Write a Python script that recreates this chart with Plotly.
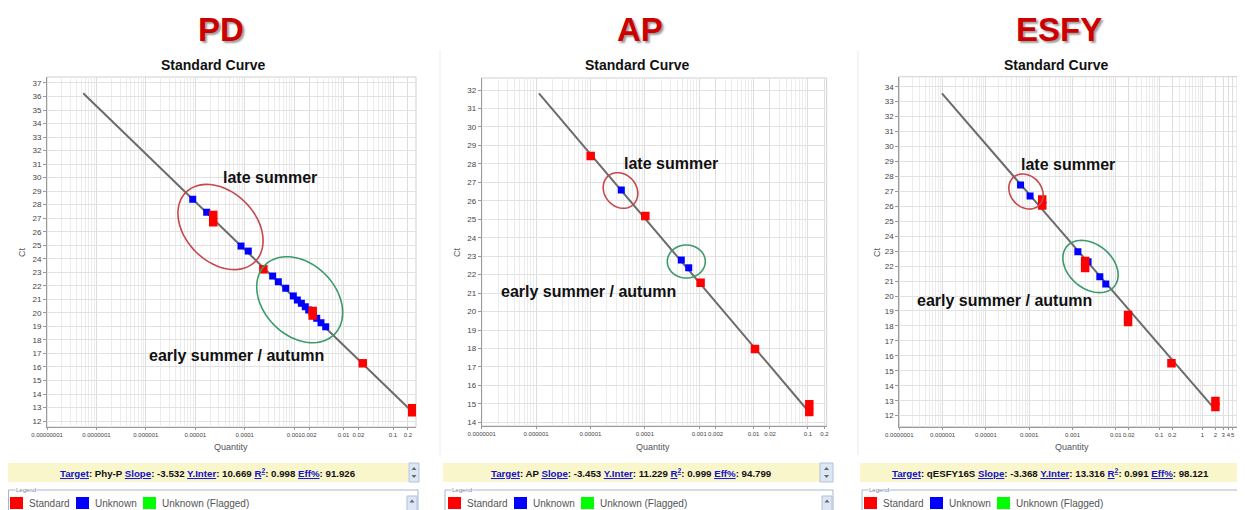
import numpy as np
import plotly.graph_objects as go

W, H = 1245, 510
OFF = 8  # the page body margin shifts the figure by 8 px; compensate

# ---------------- data ----------------
# PD
pd_line_q = [5.4e-8, 0.26]
pd_line_ct = [36.24, 12.6]
pd_std_q = [2.31e-5, 2.31e-5, 2.38e-4, 2.37e-3, 2.37e-3, 0.0244, 0.245, 0.245]
pd_std_ct = [27.24, 26.70, 23.22, 20.14, 19.80, 16.27, 12.95, 12.65]
pd_unk_q = [8.87e-6, 1.70e-5, 8.41e-5, 1.18e-4, 3.68e-4, 4.78e-4, 6.75e-4, 9.62e-4,
            1.16e-3, 1.40e-3, 1.68e-3, 1.97e-3, 2.86e-3, 3.49e-3, 4.35e-3]
pd_unk_ct = [28.40, 27.44, 24.94, 24.57, 22.72, 22.30, 21.82, 21.25,
             20.95, 20.71, 20.45, 20.21, 19.60, 19.27, 18.97]

# AP
ap_line_q = [1.13e-6, 0.109]
ap_line_ct = [31.82, 14.49]
ap_std_q = [1.01e-5, 1.02e-4, 1.06e-3, 0.0106, 0.1057, 0.1057]
ap_std_ct = [28.43, 25.18, 21.56, 17.97, 14.98, 14.56]
ap_unk_q = [3.69e-5, 4.68e-4, 6.41e-4]
ap_unk_ct = [26.58, 22.79, 22.37]

# ESFY
es_line_q = [9.66e-7, 2.0]
es_line_ct = [33.56, 12.38]
es_std_q = [2.0e-4, 2.0e-4, 1.96e-3, 1.96e-3, 0.0192, 0.0192, 0.193, 2.0, 2.0]
es_std_ct = [26.46, 26.06, 22.34, 21.88, 18.73, 18.27, 15.50, 12.98, 12.58]
es_unk_q = [6.32e-5, 1.05e-4, 1.33e-3, 2.29e-3, 4.28e-3, 5.87e-3]
es_unk_ct = [27.42, 26.69, 22.97, 22.30, 21.29, 20.81]

titles = ["PD", "AP", "ESFY"]
targets = ["Phy-P", "AP", "qESFY16S"]
slopes = ["-3.532", "-3.453", "-3.368"]
yinters = ["10.669", "11.229", "13.316"]
r2s = ["0.998", "0.999", "0.991"]
effs = ["91.926", "94.799", "98.121"]

pd_xticks = [1e-8, 1e-7, 1e-6, 1e-5, 1e-4, 1e-3, 2e-3, 1e-2, 2e-2, 0.1, 0.2]
pd_xtext = ["0.00000001", "0.0000001", "0.000001", "0.00001", "0.0001", "0.001", "0.002",
            "0.01", "0.02", "0.1", "0.2"]
ap_xticks = [1e-7, 1e-6, 1e-5, 1e-4, 1e-3, 2e-3, 1e-2, 2e-2, 0.1, 0.2]
ap_xtext = ["0.0000001", "0.000001", "0.00001", "0.0001", "0.001", "0.002",
            "0.01", "0.02", "0.1", "0.2"]
es_xticks = [1e-7, 1e-6, 1e-5, 1e-4, 1e-3, 1e-2, 2e-2, 0.1, 0.2, 1, 2, 3, 4, 5]
es_xtext = ["0.0000001", "0.000001", "0.00001", "0.0001", "0.001", "0.01", "0.02",
            "0.1", "0.2", "1", "2", "3", "4", "5"]

# ---------------- layout geometry (pixels in the photographed page) ----------------
panels = [
    dict(x0=47, x1=416, top=77, bot=427, xr=[-8, -0.535], yr=[11.56, 37.44],
         ticks=pd_xticks, ttext=pd_xtext, line=(pd_line_q, pd_line_ct),
         std=(pd_std_q, pd_std_ct), unk=(pd_unk_q, pd_unk_ct),
         bigx=221, scx=213, ctx=22, qx=231, bar=(8, 408), btn=(409, 419), txtx=208,
         leg=(8.5, 418), legx=10),
    dict(x0=481.7, x1=826.7, top=78, bot=426, xr=[-7, -0.656], yr=[13.8, 32.65],
         ticks=ap_xticks, ttext=ap_xtext, line=(ap_line_q, ap_line_ct),
         std=(ap_std_q, ap_std_ct), unk=(ap_unk_q, ap_unk_ct),
         bigx=640, scx=637, ctx=457, qx=653, bar=(443, 820), btn=(820, 833), txtx=631,
         leg=(445, 833), legx=448),
    dict(x0=899.3, x1=1245, top=76.7, bot=426.7, xr=[-7, 0.984], yr=[11.26, 34.67],
         ticks=es_xticks, ttext=es_xtext, line=(es_line_q, es_line_ct),
         std=(es_std_q, es_std_ct), unk=(es_unk_q, es_unk_ct),
         bigx=1059, scx=1056, ctx=877, qx=1072, bar=(860, 1239), btn=(1239, 1250), txtx=1050,
         leg=(862, 1250), legx=864),
]

RED_E = "#C8474A"
GRN_E = "#3C9A6C"
ellipses = [
    (220.5, 227, 49, 35, 45, RED_E),
    (299.7, 299.7, 49, 36, 45, GRN_E),
    (620.5, 190.5, 19, 16, 50, RED_E),
    (686.3, 261.5, 19, 16.5, 0, GRN_E),
    (1026, 191.5, 19, 15.5, 48, RED_E),
    (1090.5, 266.5, 31, 22, 40, GRN_E),
]

labels = [
    ("late summer", 270, 178), ("early summer / autumn", 236, 355),
    ("late summer", 671, 163), ("early summer / autumn", 588, 291),
    ("late summer", 1068, 164), ("early summer / autumn", 1004, 300),
]

FONT = "Liberation Sans, Arial, sans-serif"


def px(x):
    return (x - OFF) / W


def py(y):
    return 1 - (y - OFF) / H


def tri(cx, cy, up):
    s = 2.5
    if up:
        pts = [(cx - s, cy + s * 0.6), (cx + s, cy + s * 0.6), (cx, cy - s * 0.6)]
    else:
        pts = [(cx - s, cy - s * 0.6), (cx + s, cy - s * 0.6), (cx, cy + s * 0.6)]
    return "M " + " L ".join("%.5f,%.5f" % (px(a), py(b)) for a, b in pts) + " Z"


def note(text, x, y, size, color, xanchor="center", shadow=None, **kw):
    f = dict(size=size, color=color, family=FONT)
    if shadow:
        f["shadow"] = shadow
    d = dict(text=text, x=px(x), y=py(y), xref="paper", yref="paper", showarrow=False,
             xanchor=xanchor, yanchor="middle", font=f)
    d.update(kw)
    return d


fig = go.Figure()
shapes = []
annos = []

for i, p in enumerate(panels):
    n = "" if i == 0 else str(i + 1)
    xa, ya = "x" + n, "y" + n
    lo, hi = int(np.floor(p["xr"][0])), int(np.ceil(p["xr"][1]))
    minor_vals = [k * 10.0 ** e for e in range(lo, hi + 1) for k in range(2, 10)]
    fig.add_trace(go.Scatter(x=p["line"][0], y=p["line"][1], mode="lines",
                             line=dict(color="#6b6b6b", width=2), xaxis=xa, yaxis=ya,
                             hoverinfo="skip"))
    fig.add_trace(go.Scatter(x=p["unk"][0], y=p["unk"][1], mode="markers",
                             marker=dict(symbol="square", size=7, color="#0000FF"),
                             xaxis=xa, yaxis=ya))
    fig.add_trace(go.Scatter(x=p["std"][0], y=p["std"][1], mode="markers",
                             marker=dict(symbol="square", size=8.5, color="#FF0000"),
                             xaxis=xa, yaxis=ya))
    fig.layout["xaxis" + n] = dict(
        type="log", domain=[px(p["x0"]), min(px(p["x1"]), 1)], range=p["xr"],
        anchor=ya, tickmode="array", tickvals=p["ticks"], ticktext=p["ttext"],
        tickangle=0, tickfont=dict(size=6, color="#444", family=FONT), automargin=False,
        showgrid=True, gridcolor="#DEDEDE", gridwidth=1,
        showline=True, linecolor="#9a9a9a", mirror=False, ticks="outside",
        ticklen=2, tickcolor="#999", zeroline=False,
        minor=dict(tickmode="array", tickvals=minor_vals, showgrid=True,
                   gridcolor="#ECECEC", gridwidth=1, ticks=""),
    )
    fig.layout["yaxis" + n] = dict(
        domain=[py(p["bot"]), py(p["top"])], range=p["yr"], anchor=xa, automargin=False,
        dtick=1, tick0=0, tickfont=dict(size=8, color="#444", family=FONT),
        showgrid=True, gridcolor="#E2E2E2", showline=True, linecolor="#9a9a9a",
        ticks="outside", ticklen=3, tickcolor="#999", zeroline=False,
    )
    shapes.append(dict(type="rect", xref="paper", yref="paper",
                       x0=px(p["x0"]), x1=min(px(p["x1"]), 1), y0=py(p["bot"]), y1=py(p["top"]),
                       line=dict(color="#CFCFCF", width=1), layer="below"))
    # big title with drop shadow
    annos.append(note("<b>%s</b>" % titles[i], p["bigx"], 30, 33, "#CC0000",
                      shadow="2px 2px 2px rgba(60,60,60,0.5)"))
    annos.append(note("<b>Standard Curve</b>", p["scx"], 65, 14, "#111"))
    annos.append(note("Ct", p["ctx"], 252, 9, "#555", textangle=-90))
    annos.append(note("Quantity", p["qx"], 447, 9, "#555"))
    # yellow info bar
    shapes.append(dict(type="rect", xref="paper", yref="paper",
                       x0=px(p["bar"][0]), x1=px(p["bar"][1]), y0=py(482), y1=py(463),
                       fillcolor="#FAF6CC", line=dict(width=0)))
    shapes.append(dict(type="rect", xref="paper", yref="paper",
                       x0=px(p["btn"][0]), x1=px(p["btn"][1]), y0=py(482), y1=py(463),
                       fillcolor="#DCE6F4", line=dict(color="#AFC2DA", width=1)))
    bc = (p["btn"][0] + p["btn"][1]) / 2
    shapes.append(dict(type="path", path=tri(bc, 468.5, True), xref="paper", yref="paper",
                       fillcolor="#666", line=dict(width=0)))
    shapes.append(dict(type="path", path=tri(bc, 476.5, False), xref="paper", yref="paper",
                       fillcolor="#666", line=dict(width=0)))
    lab = "<span style='color:#1010C8'><u>%s</u></span>"
    info = ("<b>" + lab % "Target" + ": " + targets[i] + " " + lab % "Slope" + ": " + slopes[i]
            + " " + lab % "Y.Inter" + ": " + yinters[i] + " "
            + "<span style='color:#1010C8'><u>R<sup>2</sup></u></span>: " + r2s[i] + " "
            + lab % "Eff%" + ": " + effs[i] + "</b>")
    annos.append(note(info, p["txtx"], 473, 9.7, "#111"))
    # legend box
    shapes.append(dict(type="rect", xref="paper", yref="paper",
                       x0=px(p["leg"][0]), x1=px(p["leg"][1]), y0=py(520), y1=py(490),
                       fillcolor="white", line=dict(color="#A4B7CF", width=1)))
    annos.append(note("Legend", p["leg"][0] + 6, 490, 6, "#6A85A8", xanchor="left",
                      bgcolor="white", borderpad=0))
    lx = p["legx"]
    items = [("Standard", "#FF0000", 0), ("Unknown", "#0000FF", 66), ("Unknown (Flagged)", "#00FF00", 133)]
    for name, col, off in items:
        shapes.append(dict(type="rect", xref="paper", yref="paper",
                           x0=px(lx + off), x1=px(lx + off + 13), y0=py(509), y1=py(497),
                           fillcolor=col, line=dict(width=0)))
        annos.append(note(name, lx + off + 17, 503, 10, "#555", xanchor="left"))
    lb = p["leg"][1] - 10
    shapes.append(dict(type="rect", xref="paper", yref="paper",
                       x0=px(lb - 1), x1=px(lb + 9), y0=py(512), y1=py(496),
                       fillcolor="#DCE6F4", line=dict(color="#AFC2DA", width=1)))
    shapes.append(dict(type="path", path=tri(lb + 4, 501, True), xref="paper", yref="paper",
                       fillcolor="#666", line=dict(width=0)))

# ellipses
for cx, cy, a, b, ang, col in ellipses:
    t = np.linspace(0, 2 * np.pi, 73)
    th = np.deg2rad(ang)
    xs = cx + a * np.cos(t) * np.cos(th) - b * np.sin(t) * np.sin(th)
    ys = cy + a * np.cos(t) * np.sin(th) + b * np.sin(t) * np.cos(th)
    path = "M " + " L ".join("%.5f,%.5f" % (px(x), py(y)) for x, y in zip(xs, ys)) + " Z"
    shapes.append(dict(type="path", path=path, xref="paper", yref="paper",
                       line=dict(color=col, width=1.6), layer="above"))

for text, x, y in labels:
    annos.append(note("<b>%s</b>" % text, x, y, 16, "#111"))

# faint panel borders
for xv in (440, 858):
    shapes.append(dict(type="line", xref="paper", yref="paper", x0=px(xv), x1=px(xv),
                       y0=py(455), y1=py(50), line=dict(color="#EAEAEA", width=1)))

fig.update_layout(width=W, height=H, autosize=False, margin=dict(l=0, r=0, t=0, b=0, pad=0),
                  paper_bgcolor="white", plot_bgcolor="white", showlegend=False,
                  shapes=shapes, annotations=annos)

fig.write_html("out.html")
